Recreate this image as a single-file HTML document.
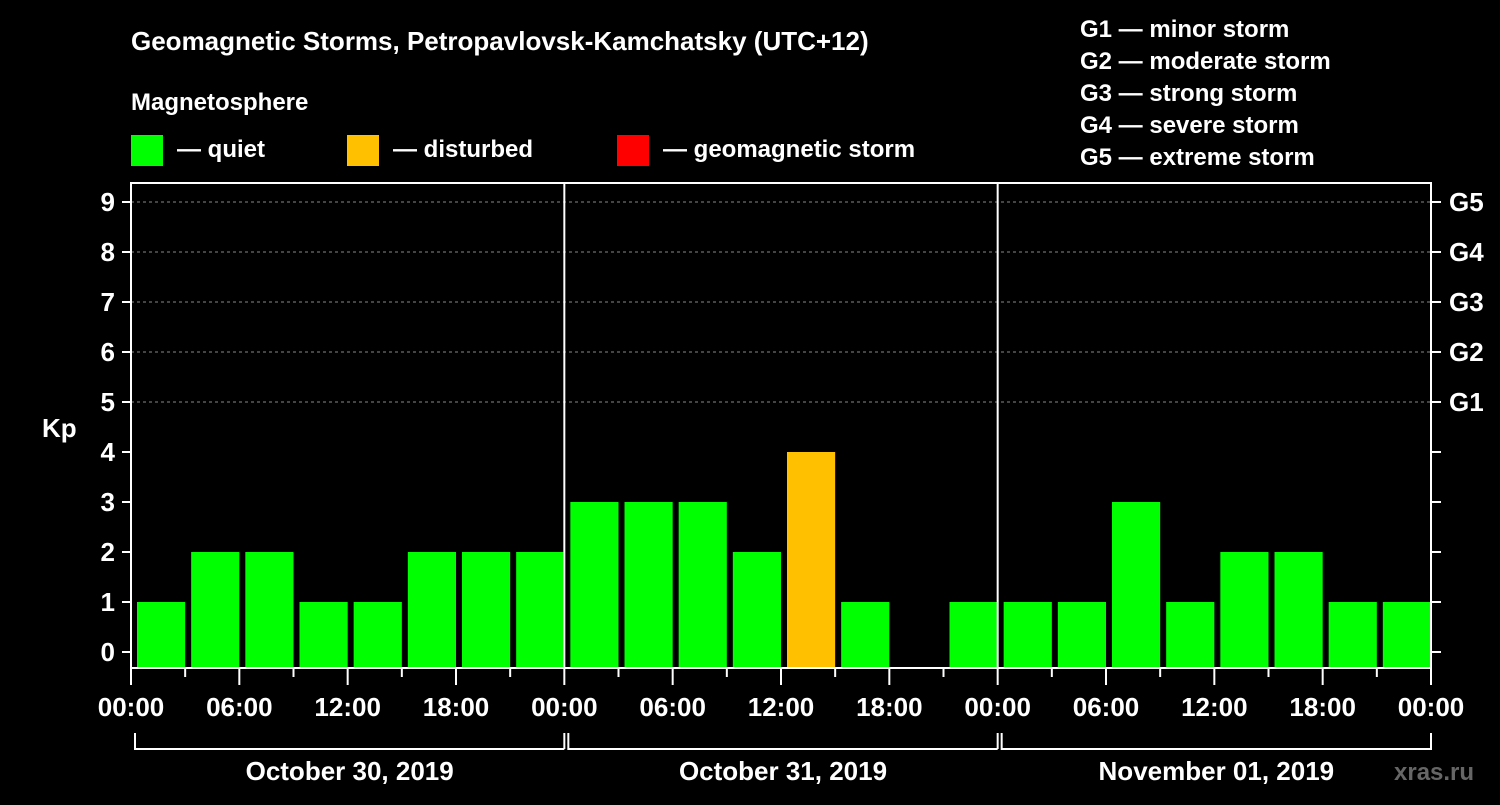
<!DOCTYPE html>
<html><head><meta charset="utf-8"><style>
body{margin:0;background:#000;width:1500px;height:800px;overflow:hidden}
svg text{font-family:"Liberation Sans",Arial,sans-serif;font-weight:bold;fill:#fff}
</style></head><body>
<svg id="c" width="1500" height="800" xmlns="http://www.w3.org/2000/svg">
<text x="131" y="50" font-size="26">Geomagnetic Storms, Petropavlovsk-Kamchatsky (UTC+12)</text>
<text x="131" y="110" font-size="24">Magnetosphere</text>
<g><rect x="131" y="135" width="32" height="31" fill="#00ff00"/><text x="177" y="157" font-size="24">— quiet</text></g>
<g><rect x="347" y="135" width="32" height="31" fill="#ffc000"/><text x="393" y="157" font-size="24">— disturbed</text></g>
<g><rect x="617" y="135" width="32" height="31" fill="#ff0000"/><text x="663" y="157" font-size="24">— geomagnetic storm</text></g>
<g font-size="24">
<text x="1080" y="37">G1 — minor storm</text><text x="1080" y="69">G2 — moderate storm</text><text x="1080" y="101">G3 — strong storm</text><text x="1080" y="133">G4 — severe storm</text><text x="1080" y="165">G5 — extreme storm</text></g>
<text x="42" y="437" font-size="26">Kp</text>
<text x="1394" y="780" font-size="24" fill="#555" style="fill:#666">xras.ru</text>
<g id="plot"></g>
</svg>
<script>
const values=[1,2,2,1,1,2,2,2, 3,3,3,2,4,1,0,1, 1,1,3,1,2,2,1,1];
const yTicks=[0,1,2,3,4,5,6,7,8,9];
const gLabels=["G1","G2","G3","G4","G5"];
const xLabels=["00:00","06:00","12:00","18:00","00:00","06:00","12:00","18:00","00:00","06:00","12:00","18:00","00:00"];
const days=["October 30, 2019","October 31, 2019","November 01, 2019"];
const NS="http://www.w3.org/2000/svg";
const L=131,R=1431,T=183,B=668;
const slot=(R-L)/24;
const y=v=>652-50*v;
const x=i=>L+slot*i;
const g=document.getElementById('plot');
function mk(t,a){const e=document.createElementNS(NS,t);for(const k in a)e.setAttribute(k,a[k]);g.appendChild(e);return e;}
// grid
for(let v=5;v<=9;v++){const e=mk('line',{x1:L,x2:R,y1:y(v),y2:y(v),stroke:'#888','stroke-dasharray':'3,3','stroke-width':1});

}
// bars
values.forEach((v,i)=>{if(v<=0)return;
const e=mk('rect',{x:x(i)+6,y:y(v),width:slot-6,height:B-y(v),fill:v>=5?'#ff0000':(v>=4?'#ffc000':'#00ff00')});

});
// frame
const f=mk('rect',{x:L,y:T,width:R-L,height:B-T,fill:'none',stroke:'#fff','stroke-width':2});


[8,16].forEach(i=>{const e=mk('line',{x1:x(i),x2:x(i),y1:T,y2:B,stroke:'#fff','stroke-width':2});

});
// y ticks
yTicks.forEach(v=>{mk('line',{x1:L-9,x2:L,y1:y(v),y2:y(v),stroke:'#fff','stroke-width':2});
mk('line',{x1:R,x2:R+10,y1:y(v),y2:y(v),stroke:'#fff','stroke-width':2});
const t=mk('text',{x:L-16,y:y(v)+9,'font-size':26,'text-anchor':'end'});t.textContent=v;

});
gLabels.forEach((s,i)=>{const t=mk('text',{x:1449,y:y(5+i)+9,'font-size':26});t.textContent=s;

});
// x ticks
for(let i=0;i<=24;i++){const maj=i%2==0;mk('line',{x1:x(i),x2:x(i),y1:B,y2:B+(maj?17:9),stroke:'#fff','stroke-width':2});}
xLabels.forEach((s,i)=>{const t=mk('text',{x:x(i*2),y:716,'font-size':26,'text-anchor':'middle'});t.textContent=s;

});
// day brackets
days.forEach((d,i)=>{const x1=x(i*8)+4,x2=x(i*8+8);
mk('path',{d:`M${x1},733V749H${x2}`+(i==2?`V733`:''),fill:'none',stroke:'#fff','stroke-width':2});
if(i<2)mk('line',{x1:x2,x2:x2,y1:733,y2:749,stroke:'#fff','stroke-width':2});
const t=mk('text',{x:(x1+x2)/2,y:780,'font-size':26,'text-anchor':'middle'});t.textContent=d;

});
</script>
</body></html>
